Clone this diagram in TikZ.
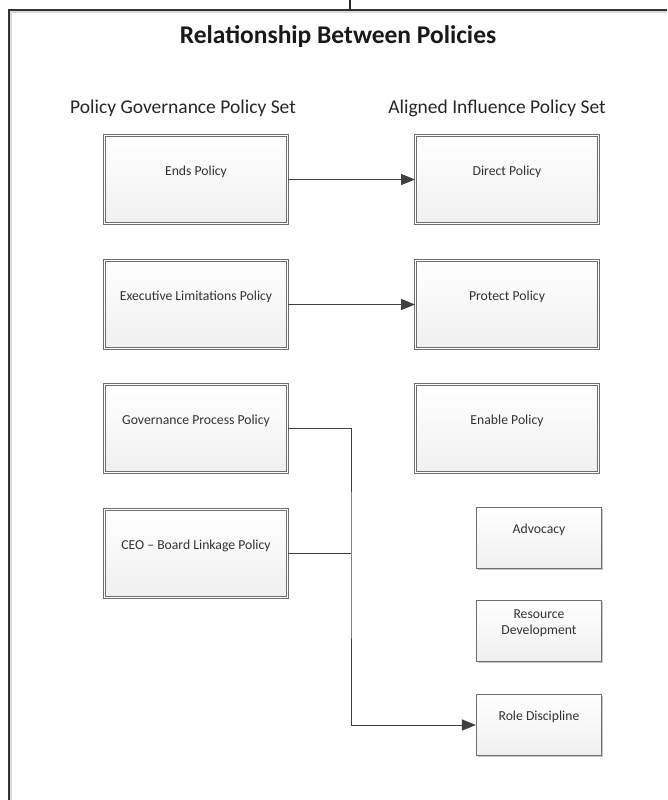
\documentclass[tikz,border=0pt]{standalone}
\usepackage{fontspec}
\setmainfont{Carlito}
\usetikzlibrary{arrows.meta,shadows}
\definecolor{bordergray}{HTML}{6E6E6E}
\definecolor{linegray}{HTML}{404040}
\tikzset{
  bigbox/.style={draw=bordergray, line width=0.8pt, double=white, double distance=1.6pt,
    top color=white, bottom color=black!6, minimum width=183pt, minimum height=88pt,
    inner sep=0pt, drop shadow={shadow xshift=1.5pt, shadow yshift=-1.5pt, fill=black!22, opacity=1}},
  smallbox/.style={draw=bordergray, line width=1.1pt,
    top color=white, bottom color=black!6, minimum width=125pt, minimum height=61pt,
    inner sep=0pt, drop shadow={shadow xshift=1.5pt, shadow yshift=-1.5pt, fill=black!22, opacity=1}},
  lbl/.style={font=\fontsize{13.7}{16}\selectfont, text=black!80, align=center, inner sep=0pt},
  conn/.style={draw=linegray, line width=1pt},
  arr/.style={conn, -{Triangle[length=14pt,width=11pt]}},
}
\begin{document}
\begin{tikzpicture}[x=1pt,y=-1pt]
\useasboundingbox (0,0) rectangle (667,800);
% frame
\draw[black!15, line width=1.2pt] (11,800) -- (11,12) -- (667,12);
\draw[black!80, line width=1.5pt] (9,800) -- (9,10) -- (667,10);
\draw[black!85, line width=1.3pt] (350,0) -- (350,10);
% titles
\node[font=\bfseries\fontsize{25.5}{30}\selectfont, text=black!90] (title) at (338,37) {Relationship Between Policies};
\node[font=\fontsize{19.5}{23}\selectfont, text=black!85] (lhead) at (183,108) {Policy Governance Policy Set};
\node[font=\fontsize{19.5}{23}\selectfont, text=black!85] (rhead) at (497,108) {Aligned Influence Policy Set};
% left boxes
\node[bigbox] (ends) at (196,179.5) {};
\node[bigbox] (exec) at (196,304.5) {};
\node[bigbox] (gov) at (196,428.5) {};
\node[bigbox] (ceo) at (196,553.5) {};
% right boxes
\node[bigbox] (direct) at (507,179.5) {};
\node[bigbox] (protect) at (507,304.5) {};
\node[bigbox] (enable) at (507,428.5) {};
\node[smallbox] (adv) at (539,538) {};
\node[smallbox] (res) at (539,631) {};
\node[smallbox] (role) at (539,725) {};
% labels
\node[lbl] (endsl) at ([yshift=8pt]ends.center) {Ends Policy};
\node[lbl] (execl) at ([yshift=8pt]exec.center) {Executive Limitations Policy};
\node[lbl] (govl) at ([yshift=8pt]gov.center) {Governance Process Policy};
\node[lbl] (ceol) at ([yshift=8pt]ceo.center) {CEO – Board Linkage Policy};
\node[lbl] (directl) at ([yshift=8pt]direct.center) {Direct Policy};
\node[lbl] (protectl) at ([yshift=8pt]protect.center) {Protect Policy};
\node[lbl] (enablel) at ([yshift=8pt]enable.center) {Enable Policy};
\node[lbl] (advl) at ([yshift=8pt]adv.center) {Advocacy};
\node[lbl] (resl) at ([yshift=8pt]res.center) {Resource\\Development};
\node[lbl] (rolel) at ([yshift=8pt]role.center) {Role Discipline};
% connectors
\coordinate (bus) at (351,553.5);
\draw[arr] (ends.east) -- (direct.west);
\draw[arr] (exec.east) -- (protect.west);
\draw[conn] (ceo.east) -- (bus);
\draw[arr] (gov.east) -| (bus) |- (role.west);
\end{tikzpicture}
\end{document}
